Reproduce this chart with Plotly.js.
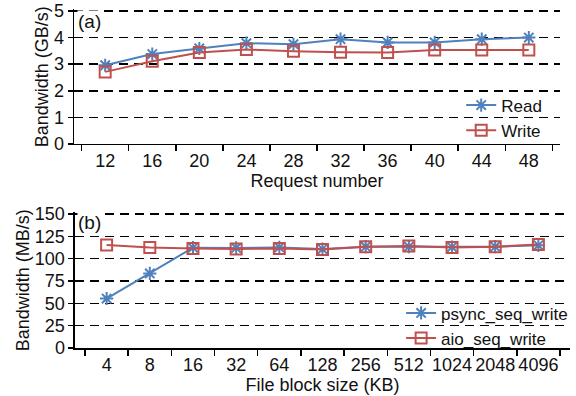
<!DOCTYPE html>
<html><head><meta charset="utf-8">
<script src="https://cdn.plot.ly/plotly-3.0.1.min.js"></script>
<style>html,body{margin:0;padding:0;background:#fff;}</style>
</head><body><div id="chart" style="width:576px;height:396px;"></div>
<script>
const reqNumbers = ["12","16","20","24","28","32","36","40","44","48"];
const readGBs  = [2.96, 3.38, 3.59, 3.79, 3.75, 3.94, 3.82, 3.82, 3.94, 4.0];
const writeGBs = [2.71, 3.11, 3.44, 3.55, 3.49, 3.45, 3.44, 3.53, 3.53, 3.53];

const blockSizes = ["4","8","16","32","64","128","256","512","1024","2048","4096"];
const psyncMBs = [55.4, 83.5, 112.3, 112.0, 112.6, 110.8, 113.4, 113.4, 113.0, 113.4, 115.0];
const aioMBs   = [115.3, 112.6, 111.5, 110.8, 111.5, 110.4, 113.4, 114.2, 112.6, 113.4, 116.0];

const BLUE = "#4f81bd", RED = "#c0504d";
const FONT = "Liberation Sans, Arial, sans-serif";

const traces = [
  {x: reqNumbers, y: readGBs, name: "Read", type: "scatter", mode: "lines+markers",
   line: {color: BLUE, width: 2}, marker: {symbol: "asterisk-open", size: 11, line: {color: BLUE, width: 2}},
   xaxis: "x", yaxis: "y", legend: "legend"},
  {x: reqNumbers, y: writeGBs, name: "Write", type: "scatter", mode: "lines+markers",
   line: {color: RED, width: 2}, marker: {symbol: "square-open", size: 11, color: RED, line: {color: RED, width: 2}},
   xaxis: "x", yaxis: "y", legend: "legend"},
  {x: blockSizes, y: psyncMBs, name: "psync_seq_write", type: "scatter", mode: "lines+markers",
   line: {color: BLUE, width: 2}, marker: {symbol: "asterisk-open", size: 11, line: {color: BLUE, width: 2}},
   xaxis: "x2", yaxis: "y2", legend: "legend2"},
  {x: blockSizes, y: aioMBs, name: "aio_seq_write", type: "scatter", mode: "lines+markers",
   line: {color: RED, width: 2}, marker: {symbol: "square-open", size: 11, color: RED, line: {color: RED, width: 2}},
   xaxis: "x2", yaxis: "y2", legend: "legend2"}
];

const TF = {family: FONT, size: 18, color: "#111"};
const xCommon = {type: "category", tickson: "boundaries", ticks: "outside", ticklen: 6, tickwidth: 1.5,
  tickcolor: "#000", showline: true, linecolor: "#000", linewidth: 1.5, showgrid: false, zeroline: false,
  tickangle: 0, automargin: false, tickfont: TF, fixedrange: true};
const yCommon = {ticks: "outside", ticklen: 5, tickwidth: 1.5, tickcolor: "#000", showline: true,
  linecolor: "#000", linewidth: 1.5, showgrid: true, gridcolor: "#000", gridwidth: 1.5, griddash: "9px,6px",
  zeroline: false, automargin: false, tickfont: TF, fixedrange: true};

const layout = {
  width: 576, height: 396, margin: {l: 0, r: 0, t: 0, b: 0},
  paper_bgcolor: "#fff", plot_bgcolor: "#fff", showlegend: true,
  xaxis: Object.assign({}, xCommon, {domain: [0.1285, 0.9722], anchor: "y",
    title: {text: "Request number", font: TF, standoff: 0}}),
  yaxis: Object.assign({}, yCommon, {domain: [0.6364, 0.9763], anchor: "x", range: [0, 5.06], tickvals: [0,1,2,3,4,5],
    title: {text: "Bandwidth (GB/s)", font: TF, standoff: 0}}),
  xaxis2: Object.assign({}, xCommon, {domain: [0.1302, 0.9896], anchor: "y2",
    title: {text: "File block size (KB)", font: TF, standoff: 0}}),
  yaxis2: Object.assign({}, yCommon, {domain: [0.1212, 0.4636], anchor: "x2", range: [0, 151.8], tickvals: [0,25,50,75,100,125,150],
    title: {text: "Bandwidth (MB/s)", font: TF, standoff: 0}}),
  legend: {x: 0.95, y: 0.625, xanchor: "right", yanchor: "bottom", bgcolor: "rgba(0,0,0,0)",
    font: {family: FONT, size: 17, color: "#111"}, tracegroupgap: 0, itemwidth: 30},
  legend2: {x: 0.995, y: 0.10, xanchor: "right", yanchor: "bottom", bgcolor: "rgba(0,0,0,0)",
    font: {family: FONT, size: 17, color: "#111"}, tracegroupgap: 0, itemwidth: 30},
  annotations: [
    {text: "(a)", xref: "paper", yref: "paper", x: 0.133, y: 0.976, xanchor: "left", yanchor: "top", showarrow: false,
     bgcolor: "#fff", borderpad: 0, font: {family: FONT, size: 19, color: "#111"}},
    {text: "(b)", xref: "paper", yref: "paper", x: 0.134, y: 0.468, xanchor: "left", yanchor: "top", showarrow: false,
     bgcolor: "#fff", borderpad: 0, font: {family: FONT, size: 19, color: "#111"}}
  ]
};

Plotly.newPlot("chart", traces, layout, {displayModeBar: false, staticPlot: true});
</script></body></html>
